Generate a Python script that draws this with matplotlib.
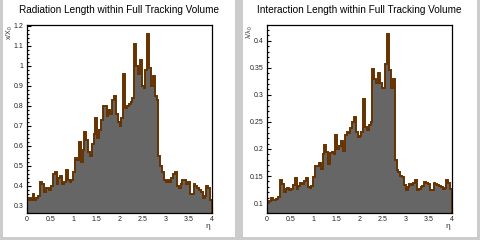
import numpy as np
import matplotlib
matplotlib.use("Agg")
import matplotlib.pyplot as plt
from matplotlib.patches import Rectangle
from matplotlib.ticker import MultipleLocator, FuncFormatter

plt.rcParams['font.family'] = ['Liberation Sans', 'DejaVu Sans']
plt.rcParams['mathtext.fontset'] = 'custom'
plt.rcParams['mathtext.rm'] = 'Liberation Sans'

eta_edges = np.linspace(0, 4, 101)

radiation = [
    0.33, 0.34, 0.33, 0.36, 0.33, 0.34, 0.35, 0.42, 0.41, 0.37,
    0.39, 0.39, 0.38, 0.40, 0.46, 0.47, 0.41, 0.44, 0.45, 0.41,
    0.42, 0.48, 0.43, 0.42, 0.43, 0.47, 0.54, 0.53, 0.62, 0.52,
    0.58, 0.67, 0.63, 0.57, 0.55, 0.61, 0.66, 0.74, 0.64, 0.68,
    0.73, 0.80, 0.80, 0.75, 0.78, 0.76, 0.83, 0.85, 0.76, 0.72,
    0.70, 0.74, 0.96, 0.79, 0.80, 0.81, 0.82, 0.84, 1.11, 1.00,
    0.96, 1.03, 0.90, 0.89, 0.98, 1.16, 0.99, 0.90, 0.95, 0.85,
    0.83, 0.55, 0.50, 0.47, 0.43, 0.42, 0.43, 0.42, 0.44, 0.46,
    0.47, 0.40, 0.39, 0.41, 0.43, 0.43, 0.41, 0.42, 0.36, 0.36,
    0.41, 0.40, 0.39, 0.38, 0.37, 0.34, 0.35, 0.40, 0.39, 0.33,
]

interaction = [
    0.100, 0.104, 0.110, 0.106, 0.105, 0.108, 0.111, 0.143, 0.136, 0.121,
    0.127, 0.128, 0.124, 0.126, 0.133, 0.147, 0.127, 0.131, 0.138, 0.136,
    0.140, 0.147, 0.130, 0.128, 0.132, 0.148, 0.169, 0.168, 0.175, 0.163,
    0.190, 0.208, 0.195, 0.172, 0.193, 0.195, 0.190, 0.226, 0.200, 0.205,
    0.214, 0.196, 0.226, 0.232, 0.230, 0.238, 0.250, 0.260, 0.232, 0.222,
    0.224, 0.232, 0.293, 0.240, 0.236, 0.245, 0.250, 0.347, 0.330, 0.322,
    0.341, 0.322, 0.313, 0.312, 0.357, 0.413, 0.345, 0.312, 0.330, 0.180,
    0.162, 0.158, 0.150, 0.148, 0.133, 0.125, 0.130, 0.136, 0.134, 0.137,
    0.142, 0.125, 0.126, 0.130, 0.131, 0.139, 0.137, 0.135, 0.124, 0.125,
    0.137, 0.136, 0.133, 0.131, 0.130, 0.127, 0.128, 0.142, 0.137, 0.127,
]

titles = ["Radiation Length within Full Tracking Volume",
          "Interaction Length within Full Tracking Volume"]
ylabels = [r"x/X$_\mathrm{0}$", r"λ/λ$_\mathrm{0}$"]
xlabel = "η"

W, H = 480, 240
fig = plt.figure(figsize=(4.8, 2.4), dpi=100)
fig.patch.set_facecolor('#cccccc')

def fx(px):
    return px / W

def fy(py):
    return 1 - py / H

# pads
for x0, x1 in [(3, 235), (243, 477)]:
    fig.patches.append(Rectangle((fx(x0), fy(237)), fx(x1 - x0), 237 / H,
                                 transform=fig.transFigure, facecolor='white',
                                 edgecolor='none', zorder=-10))

fill_c = '#666666'
line_c = '#663300'

configs = [
    dict(vals=radiation, x0=27, ylim=(0.265, 1.2035), major=0.1, minor=0.02,
         fmt=lambda v, p: ('%g' % round(v, 2))),
    dict(vals=interaction, x0=267, ylim=(0.0818, 0.429), major=0.05, minor=0.01,
         fmt=lambda v, p: ('%g' % round(v, 3))),
]

for i, cfg in enumerate(configs):
    ax = fig.add_axes([fx(cfg['x0']), fy(213), fx(185), 188 / H])
    ax.set_zorder(1)
    ax.set_facecolor('white')
    ax.stairs(cfg['vals'], eta_edges, fill=True, color=fill_c, zorder=2)
    ax.stairs(cfg['vals'], eta_edges, color=line_c, lw=1.4, zorder=3)
    ax.set_xlim(0, 4)
    ax.set_ylim(*cfg['ylim'])
    ax.xaxis.set_major_locator(MultipleLocator(0.5))
    ax.xaxis.set_minor_locator(MultipleLocator(0.1))
    ax.yaxis.set_major_locator(MultipleLocator(cfg['major']))
    ax.yaxis.set_minor_locator(MultipleLocator(cfg['minor']))
    ax.xaxis.set_major_formatter(FuncFormatter(lambda v, p: '%g' % round(v, 2)))
    ax.yaxis.set_major_formatter(FuncFormatter(cfg['fmt']))
    ax.tick_params(axis='x', which='major', direction='in', length=4.0, width=0.8,
                   labelsize=5, pad=2.5, top=False)
    ax.tick_params(axis='x', which='minor', direction='in', length=2.0, width=0.8, top=False)
    ax.tick_params(axis='y', which='major', direction='in', length=2.6, width=0.8,
                   labelsize=5, pad=2.5, right=False)
    ax.tick_params(axis='y', which='minor', direction='in', length=1.5, width=0.8, right=False)
    for lab in ax.get_xticklabels() + ax.get_yticklabels():
        lab.set_color('#222222')
    for s in ax.spines.values():
        s.set_linewidth(0.9)
        s.set_zorder(5)
    cx = cfg['x0'] - 27
    fig.text(fx(cx + 119), fy(10), titles[i], ha='center', va='center', fontsize=7.2)
    fig.text(fx(cx + 10), fy(25), ylabels[i], ha='center', va='top', rotation=90,
             fontsize=5, color='#333333')
    fig.text(fx(cx + 208), fy(227), xlabel, ha='center', va='center', fontsize=6,
             color='#333333')

fig.savefig('out.png', dpi=100, facecolor=fig.get_facecolor())
